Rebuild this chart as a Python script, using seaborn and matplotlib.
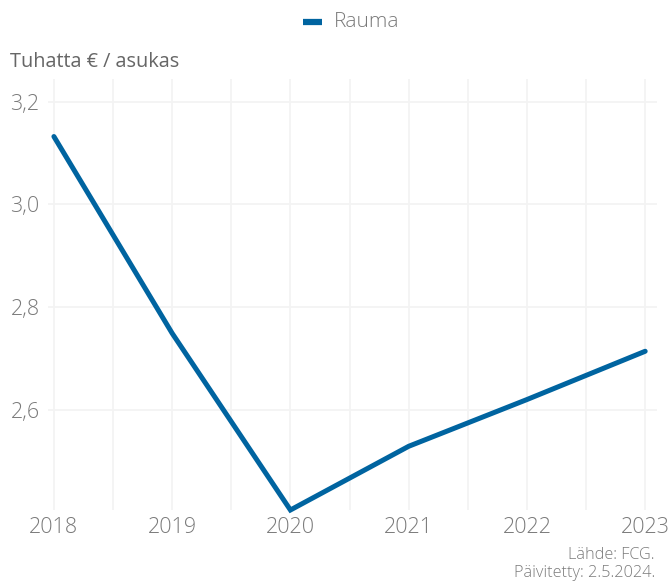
import pandas as pd
import seaborn as sns
import matplotlib.pyplot as plt

# Values
years = [2018, 2019, 2020, 2021, 2022, 2023]
rauma = [3.132, 2.749, 2.405, 2.529, 2.620, 2.714]
y_ticks = [2.6, 2.8, 3.0, 3.2]
y_labels = ['2,6', '2,8', '3,0', '3,2']

df = pd.DataFrame({'Vuosi': years, 'Arvo': rauma, 'Kunta': 'Rauma'})

sns.set_theme(style='white')
plt.rcParams['font.family'] = ['Open Sans', 'DejaVu Sans']

fig = plt.figure(figsize=(6.68, 5.81), dpi=100)
ax = fig.add_axes([48 / 668, 1 - 510 / 581, 609 / 668, 431 / 581])

sns.lineplot(data=df, x='Vuosi', y='Arvo', hue='Kunta', palette=['#0064a0'],
             linewidth=3.6, ax=ax, legend=False, clip_on=False,
             solid_joinstyle='miter')

ax.set_xlim(2017.95, 2023.1)
ax.set_ylim(2.405, 3.244)
ax.set_xticks(years)
ax.set_xticklabels([str(y) for y in years])
ax.set_yticks(y_ticks)
ax.set_yticklabels(y_labels)

# gridlines: horizontal at ticks, vertical every half year
for yv in y_ticks:
    ax.axhline(yv, color='#f3f3f3', lw=1.3, zorder=0)
for i in range(11):
    ax.axvline(2018 + i * 0.5, color='#f3f3f3', lw=1.3, zorder=0)

for s in ax.spines.values():
    s.set_visible(False)
ax.tick_params(axis='both', length=0, labelsize=15.5, labelcolor='#7a7a7a')
ax.tick_params(axis='y', pad=6)
ax.tick_params(axis='x', pad=5)
for lab in ax.get_xticklabels() + ax.get_yticklabels():
    lab.set_fontweight('light')
ax.set_xlabel('')
ax.set_ylabel('')

fig.text(10 / 668, 1 - 62 / 581, 'Tuhatta € / asukas', fontsize=14.3,
         color='#666666', va='center', ha='left')

# legend
fig.lines.append(plt.Line2D([303 / 668, 322 / 668], [1 - 22 / 581] * 2,
                            transform=fig.transFigure, color='#0064a0', lw=4.5,
                            solid_capstyle='butt'))
fig.text(334 / 668, 1 - 22 / 581, 'Rauma', fontsize=15, color='#7a7a7a',
         va='center', ha='left', fontweight='light')

fig.text(655 / 668, 1 - 555 / 581, 'Lähde: FCG.', fontsize=11.7,
         color='#7a7a7a', ha='right', va='center', fontweight='light')
fig.text(655 / 668, 1 - 573 / 581, 'Päivitetty: 2.5.2024.', fontsize=11.7,
         color='#7a7a7a', ha='right', va='center', fontweight='light')

fig.savefig('out.png', dpi=100)
